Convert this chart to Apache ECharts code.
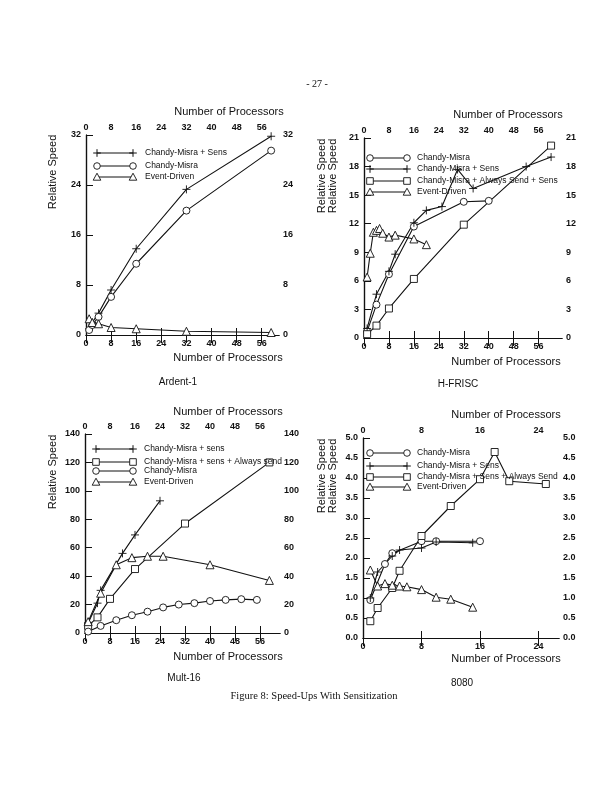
<!DOCTYPE html>
<html><head><meta charset="utf-8">
<script src="https://cdn.jsdelivr.net/npm/echarts@6/dist/echarts.min.js"></script>
<style>html,body{margin:0;padding:0;background:#fff}#c{width:612px;height:791px}</style>
</head><body><div id="c"></div>
<script>
// ---------- DATA ----------
// Panel 1: Ardent-1
const ardentSens   = [[1,1.0],[2,2.0],[4,3.5],[8,7.2],[16,13.8],[32,23.3],[59,31.8]];
const ardentCM     = [[1,0.8],[2,1.6],[4,2.9],[8,6.1],[16,11.4],[32,19.9],[59,29.5]];
const ardentED     = [[1,2.6],[2,2.0],[4,1.8],[8,1.2],[16,1.0],[32,0.6],[59,0.4]];
// Panel 2: H-FRISC
const hfCM         = [[1,0.7],[4,3.5],[8,6.7],[16,11.7],[32,14.3],[40,14.4]];
const hfSens       = [[1,1.0],[4,4.6],[8,7.0],[10,8.8],[16,12.1],[20,13.4],[25,13.8],[30,17.7],[35,15.7],[52,18.0],[60,19.0]];
const hfAlways     = [[1,0.4],[4,1.3],[8,3.1],[16,6.2],[32,11.9],[60,20.2]];
const hfED         = [[1,6.4],[2,8.9],[3,11.1],[4,11.3],[5,11.5],[6,11.0],[8,10.6],[10,10.8],[16,10.4],[20,9.8]];
// Panel 3: Mult-16
const multSens     = [[1,7],[4,21],[5,30],[12,56],[16,69],[24,93]];
const multAlways   = [[1,5],[4,11],[8,24],[16,45],[32,77],[59,120]];
const multCM       = [[1,1],[5,5],[10,9],[15,12.5],[20,15],[25,18],[30,20],[35,21],[40,22.5],[45,23.3],[50,23.8],[55,23.3]];
const multED       = [[1,8],[5,28],[10,48],[15,53],[20,54],[25,54],[40,48],[59,37]];
// Panel 4: 8080
const i8080CM      = [[1,0.95],[3,1.85],[4,2.12],[8,2.42],[10,2.42],[16,2.42]];
const i8080Sens    = [[1,1.0],[2,1.65],[4,2.05],[5,2.2],[8,2.25],[10,2.4],[15,2.38]];
const i8080Always  = [[1,0.42],[2,0.75],[4,1.25],[5,1.68],[8,2.55],[12,3.3],[16,3.97],[18,4.65],[20,3.92],[25,3.85]];
const i8080ED      = [[1,1.7],[2,1.3],[3,1.36],[4,1.32],[5,1.3],[6,1.28],[8,1.21],[10,1.02],[12,0.97],[15,0.77]];

const panelNames = ['Ardent-1','H-FRISC','Mult-16','8080'];
const xTitle = 'Number of Processors';
const yTitle = 'Relative Speed';

// ---------- STYLE / LAYOUT ----------
const INK = '#111';
const FONT = 'Liberation Sans';
const panels = [
  {grid:{left:86,top:135,width:193,height:200}, xMax:61.5, xInt:8, yMax:32, yInt:8, dec:0,
   series:[['plus','Chandy-Misra + Sens',ardentSens],['circle','Chandy-Misra',ardentCM],['triangle','Event-Driven',ardentED]],
   legend:{ys:[153,166,177], x1:97, x2:133, xt:145},
   yTitles:[53], yTitleY:172, topTitle:[229,112], botTitle:[228,358], name:[178,382]},
  {grid:{left:364,top:138,width:198,height:200}, xMax:63.5, xInt:8, yMax:21, yInt:3, dec:0,
   series:[['circle','Chandy-Misra',hfCM],['plus','Chandy-Misra + Sens',hfSens],['rect','Chandy-Misra + Always Send + Sens',hfAlways],['triangle','Event-Driven',hfED]],
   legend:{ys:[158,169,181,192], x1:370, x2:407, xt:417},
   yTitles:[322,333], yTitleY:176, topTitle:[508,115], botTitle:[506,362], name:[458,384]},
  {grid:{left:85,top:434,width:195,height:199}, xMax:62.4, xInt:8, yMax:140, yInt:20, dec:0,
   series:[['plus','Chandy-Misra + sens',multSens],['rect','Chandy-Misra + sens + Always send',multAlways],['circle','Chandy-Misra',multCM],['triangle','Event-Driven',multED]],
   legend:{ys:[449,462,471,482], x1:96, x2:133, xt:144},
   yTitles:[53], yTitleY:472, topTitle:[228,412], botTitle:[228,657], name:[184,678]},
  {grid:{left:363,top:438,width:196,height:200}, xMax:26.8, xInt:8, yMax:5, yInt:0.5, dec:1,
   series:[['circle','Chandy-Misra',i8080CM],['plus','Chandy-Misra + Sens',i8080Sens],['rect','Chandy-Misra + Sens + Always Send',i8080Always],['triangle','Event-Driven',i8080ED]],
   legend:{ys:[453,466,477,487], x1:370, x2:407, xt:417},
   yTitles:[322,333], yTitleY:476, topTitle:[506,415], botTitle:[506,659], name:[462,683]}
];

const symMap = {
  circle:'circle', rect:'rect', triangle:'triangle',
  plus:'path://M0,5L10,5M5,0L5,10'
};
const labelStyle = {color:INK, fontFamily:FONT, fontSize:9, fontWeight:'bold'};

const grids=[], xAxes=[], yAxes=[], series=[], graphic=[];
panels.forEach((p,i)=>{
  grids.push(Object.assign({outerBoundsMode:'none', containLabel:false}, p.grid));
  const xBase = {type:'value', gridIndex:i, min:0, max:p.xMax, interval:p.xInt,
    splitLine:{show:false}, axisLine:{lineStyle:{color:INK,width:1.2}},
    axisLabel:Object.assign({showMaxLabel:false, margin:4}, labelStyle)};
  xAxes.push(Object.assign({}, xBase, {position:'bottom', axisTick:{inside:true,length:7,lineStyle:{color:INK}}}));
  xAxes.push(Object.assign({}, xBase, {position:'top', axisTick:{inside:true,length:8,lineStyle:{color:INK}}, axisLabel:Object.assign({showMaxLabel:false, margin:3}, labelStyle)}));
  const fmt = v => v.toFixed(p.dec);
  const yBase = {type:'value', gridIndex:i, min:0, max:p.yMax, interval:p.yInt,
    splitLine:{show:false}, axisLine:{lineStyle:{color:INK,width:1.2}}};
  yAxes.push(Object.assign({}, yBase, {position:'left', axisTick:{inside:true,length:7,lineStyle:{color:INK}},
    axisLabel:Object.assign({margin:5, formatter:fmt}, labelStyle)}));
  yAxes.push(Object.assign({}, yBase, {position:'right', axisTick:{inside:false,length:6,lineStyle:{color:INK}},
    axisLabel:Object.assign({margin:4, formatter:fmt}, labelStyle)}));

  p.series.forEach(([sym,name,data])=>{
    series.push({type:'line', name:name, xAxisIndex:2*i, yAxisIndex:2*i, data:data,
      symbol:symMap[sym], symbolSize:sym==='plus'?8:(sym==='triangle'?8:7), showAllSymbol:true,
      lineStyle:{color:INK,width:1.1},
      itemStyle:{color:sym==='plus'?'rgba(0,0,0,0)':'#fff', borderColor:INK, borderWidth:0.9},
      emphasis:{disabled:true},
      animation:false, silent:true});
  });

  // legend drawn as graphic
  p.series.forEach(([sym,name],k)=>{
    const y = p.legend.ys[k];
    graphic.push({type:'line', shape:{x1:p.legend.x1,y1:y,x2:p.legend.x2,y2:y}, style:{stroke:INK,lineWidth:1}, z:100});
    graphic.push(makeSym(sym,p.legend.x1,y));
    graphic.push(makeSym(sym,p.legend.x2,y));
    graphic.push({type:'text', x:p.legend.xt, y:y, z:101, style:{text:name, fill:INK, font:'8.5px "Liberation Sans"', textVerticalAlign:'middle', textAlign:'left'}});
  });
  // titles
  p.yTitles.forEach(x=>{
    graphic.push({type:'text', x:x, y:p.yTitleY, rotation:Math.PI/2, z:100,
      style:{text:yTitle, fill:INK, font:'11px "Liberation Sans"', textAlign:'center', textVerticalAlign:'middle'}});
  });
  graphic.push({type:'text', x:p.topTitle[0], y:p.topTitle[1], z:100, style:{text:xTitle, fill:INK, font:'11px "Liberation Sans"', textAlign:'center', textVerticalAlign:'middle'}});
  graphic.push({type:'text', x:p.botTitle[0], y:p.botTitle[1], z:100, style:{text:xTitle, fill:INK, font:'11px "Liberation Sans"', textAlign:'center', textVerticalAlign:'middle'}});
  graphic.push({type:'text', x:p.name[0], y:p.name[1], z:100, style:{text:panelNames[i], fill:INK, font:'10px "Liberation Sans"', textAlign:'center', textVerticalAlign:'middle'}});
});

function makeSym(sym,x,y){
  const st = {fill:'#fff', stroke:INK, lineWidth:0.9};
  if(sym==='circle') return {type:'circle', z:102, shape:{cx:x,cy:y,r:3.3}, style:st};
  if(sym==='rect') return {type:'rect', z:102, shape:{x:x-3.3,y:y-3.3,width:6.6,height:6.6}, style:st};
  if(sym==='triangle') return {type:'polygon', z:102, shape:{points:[[x,y-3.8],[x+3.8,y+3.2],[x-3.8,y+3.2]]}, style:st};
  return {type:'group', z:102, children:[
    {type:'line', z:102, shape:{x1:x-3.8,y1:y,x2:x+3.8,y2:y}, style:{stroke:INK,lineWidth:1}},
    {type:'line', z:102, shape:{x1:x,y1:y-3.8,x2:x,y2:y+3.8}, style:{stroke:INK,lineWidth:1}}]};
}

graphic.push({type:'text', x:317, y:84, style:{text:'- 27 -', fill:INK, font:'10px "Liberation Serif"', textAlign:'center', textVerticalAlign:'middle'}});
graphic.push({type:'text', x:314, y:696, style:{text:'Figure 8: Speed-Ups With Sensitization', fill:INK, font:'10.5px "Liberation Serif"', textAlign:'center', textVerticalAlign:'middle'}});

const chart = echarts.init(document.getElementById('c'), null, {renderer:'canvas'});
chart.setOption({backgroundColor:'#fff', animation:false, grid:grids, xAxis:xAxes, yAxis:yAxes, series:series, graphic:graphic});
</script></body></html>
